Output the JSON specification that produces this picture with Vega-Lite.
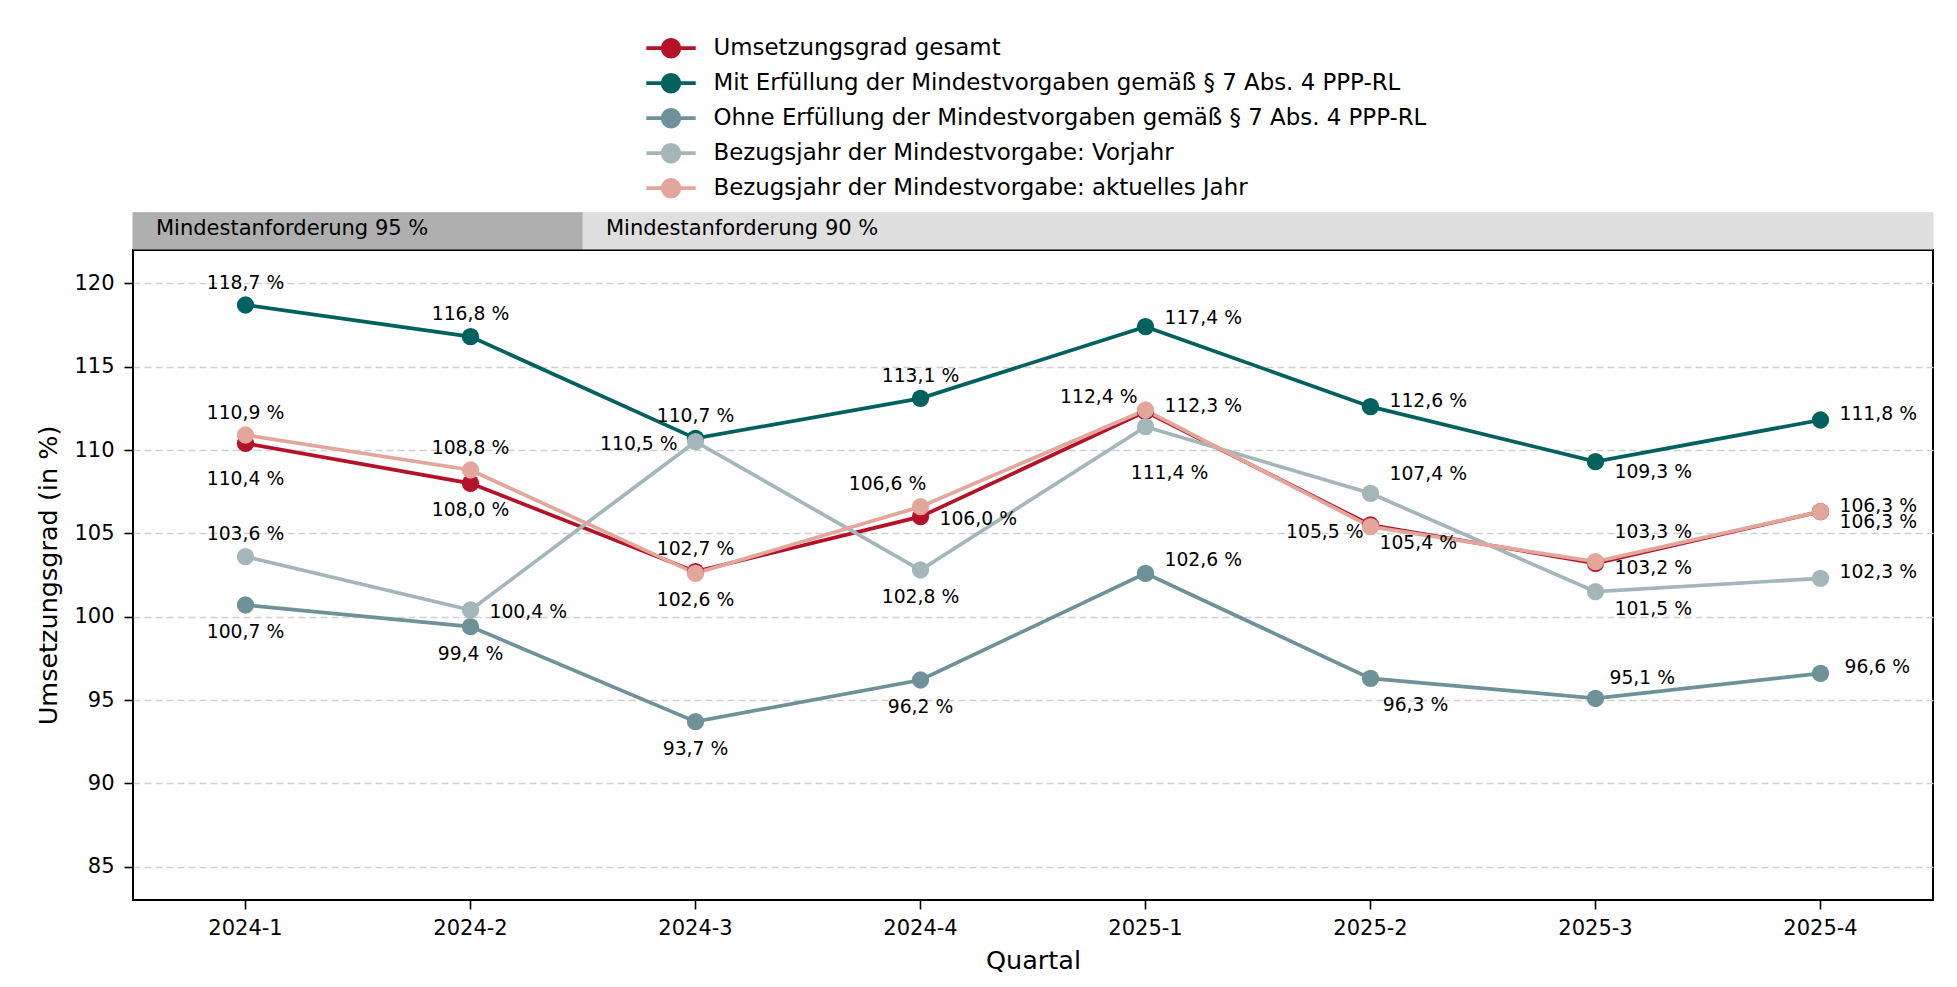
{
  "$schema": "https://vega.github.io/schema/vega-lite/v6.json",
  "width": 1800,
  "height": 650,
  "autosize": {"type": "none"},
  "padding": {"left": 133, "top": 250, "right": 24, "bottom": 87},
  "background": "white",
  "config": {
    "font": "DejaVu Sans",
    "view": {"stroke": "black", "strokeWidth": 2},
    "axis": {
      "labelColor": "black", "titleColor": "black", "tickColor": "black",
      "labelFont": "DejaVu Sans", "titleFont": "DejaVu Sans", "titleFontWeight": "normal",
      "labelFontSize": 21, "titleFontSize": 25.5, "tickSize": 9, "tickWidth": 1.6, "domain": false
    },
    "text": {"font": "DejaVu Sans", "fontSize": 18.75, "color": "black", "baseline": "middle"}
  },
  "layer": [
    {
      "data": {"values": [
        {"quartal": "2024-1", "mindestanforderung": 95},
        {"quartal": "2024-2", "mindestanforderung": 95},
        {"quartal": "2024-3", "mindestanforderung": 90},
        {"quartal": "2024-4", "mindestanforderung": 90},
        {"quartal": "2025-1", "mindestanforderung": 90},
        {"quartal": "2025-2", "mindestanforderung": 90},
        {"quartal": "2025-3", "mindestanforderung": 90},
        {"quartal": "2025-4", "mindestanforderung": 90}
      ]},
      "layer": [
        {
          "mark": {"type": "rect", "strokeWidth": 1},
          "encoding": {
            "x": {"field": "quartal", "type": "ordinal", "title": "Quartal",
                  "scale": {"type": "band", "paddingInner": 0, "paddingOuter": 0},
                  "axis": {"labelAngle": 0, "labelPadding": 8, "titlePadding": 10, "grid": false}},
            "y": {"datum": 122.06, "type": "quantitative", "title": "Umsetzungsgrad (in %)",
                  "scale": {"domain": [83, 122], "nice": false, "zero": false}},
            "y2": {"datum": 124.24},
            "fill": {"condition": {"test": "datum.mindestanforderung === 95", "value": "#afafaf"}, "value": "#dfdfdf"},
            "stroke": {"condition": {"test": "datum.mindestanforderung === 95", "value": "#afafaf"}, "value": "#dfdfdf"}
          }
        },
        {
          "transform": [
            {"window": [{"op": "row_number", "as": "nr"}], "groupby": ["mindestanforderung"], "sort": [{"field": "quartal"}]},
            {"filter": "datum.nr === 1"},
            {"calculate": "'Mindestanforderung ' + datum.mindestanforderung + ' %'", "as": "beschriftung"}
          ],
          "mark": {"type": "text", "align": "left", "baseline": "middle", "dx": 23, "fontSize": 21},
          "encoding": {
            "x": {"field": "quartal", "type": "ordinal", "bandPosition": 0, "title": "Quartal"},
            "y": {"datum": 123.25, "type": "quantitative", "title": "Umsetzungsgrad (in %)"},
            "text": {"field": "beschriftung"}
          }
        }
      ]
    },
    {
      "data": {"values": [
        {"quartal": "2024-1", "reihe": "gesamt", "wert": 110.4},
        {"quartal": "2024-2", "reihe": "gesamt", "wert": 108.0},
        {"quartal": "2024-3", "reihe": "gesamt", "wert": 102.7},
        {"quartal": "2024-4", "reihe": "gesamt", "wert": 106.0},
        {"quartal": "2025-1", "reihe": "gesamt", "wert": 112.3},
        {"quartal": "2025-2", "reihe": "gesamt", "wert": 105.5},
        {"quartal": "2025-3", "reihe": "gesamt", "wert": 103.2},
        {"quartal": "2025-4", "reihe": "gesamt", "wert": 106.3},
        {"quartal": "2024-1", "reihe": "mit", "wert": 118.7},
        {"quartal": "2024-2", "reihe": "mit", "wert": 116.8},
        {"quartal": "2024-3", "reihe": "mit", "wert": 110.7},
        {"quartal": "2024-4", "reihe": "mit", "wert": 113.1},
        {"quartal": "2025-1", "reihe": "mit", "wert": 117.4},
        {"quartal": "2025-2", "reihe": "mit", "wert": 112.6},
        {"quartal": "2025-3", "reihe": "mit", "wert": 109.3},
        {"quartal": "2025-4", "reihe": "mit", "wert": 111.8},
        {"quartal": "2024-1", "reihe": "ohne", "wert": 100.7},
        {"quartal": "2024-2", "reihe": "ohne", "wert": 99.4},
        {"quartal": "2024-3", "reihe": "ohne", "wert": 93.7},
        {"quartal": "2024-4", "reihe": "ohne", "wert": 96.2},
        {"quartal": "2025-1", "reihe": "ohne", "wert": 102.6},
        {"quartal": "2025-2", "reihe": "ohne", "wert": 96.3},
        {"quartal": "2025-3", "reihe": "ohne", "wert": 95.1},
        {"quartal": "2025-4", "reihe": "ohne", "wert": 96.6},
        {"quartal": "2024-1", "reihe": "vorjahr", "wert": 103.6},
        {"quartal": "2024-2", "reihe": "vorjahr", "wert": 100.4},
        {"quartal": "2024-3", "reihe": "vorjahr", "wert": 110.5},
        {"quartal": "2024-4", "reihe": "vorjahr", "wert": 102.8},
        {"quartal": "2025-1", "reihe": "vorjahr", "wert": 111.4},
        {"quartal": "2025-2", "reihe": "vorjahr", "wert": 107.4},
        {"quartal": "2025-3", "reihe": "vorjahr", "wert": 101.5},
        {"quartal": "2025-4", "reihe": "vorjahr", "wert": 102.3},
        {"quartal": "2024-1", "reihe": "aktuell", "wert": 110.9},
        {"quartal": "2024-2", "reihe": "aktuell", "wert": 108.8},
        {"quartal": "2024-3", "reihe": "aktuell", "wert": 102.6},
        {"quartal": "2024-4", "reihe": "aktuell", "wert": 106.6},
        {"quartal": "2025-1", "reihe": "aktuell", "wert": 112.4},
        {"quartal": "2025-2", "reihe": "aktuell", "wert": 105.4},
        {"quartal": "2025-3", "reihe": "aktuell", "wert": 103.3},
        {"quartal": "2025-4", "reihe": "aktuell", "wert": 106.3}
      ]},
      "transform": [
        {"calculate": "replace(format(datum.wert, '.1f'), '.', ',') + ' %'", "as": "beschriftung"},
        {"calculate": "datum.reihe + '|' + datum.quartal", "as": "id"}
      ],
      "encoding": {
        "x": {"field": "quartal", "type": "ordinal", "title": "Quartal"},
        "y": {"field": "wert", "type": "quantitative", "title": "Umsetzungsgrad (in %)",
              "scale": {"domain": [83, 122], "nice": false, "zero": false},
              "axis": {"values": [85, 90, 95, 100, 105, 110, 115, 120], "grid": true, "gridColor": "#d0d0d0",
                       "gridDash": [7, 4], "gridWidth": 1.3, "labelPadding": 10, "titlePadding": 12}}
      },
      "layer": [
        {
          "mark": {"type": "line", "strokeWidth": 3.7},
          "encoding": {
            "color": {"field": "reihe", "type": "nominal",
              "scale": {"domain": ["gesamt", "mit", "ohne", "vorjahr", "aktuell"],
                        "range": ["#b5122a", "#00615f", "#6e9297", "#a4b6b9", "#e3a69b"]},
              "legend": {
                "orient": "none", "legendX": 511, "legendY": -219, "title": null,
                "padding": 0, "rowPadding": 0, "clipHeight": 34.4,
                "symbolType": "M-1,0L1,0M-0.34,0A0.34,0.34,0,1,1,0.34,0A0.34,0.34,0,1,1,-0.34,0Z",
                "symbolSize": 2440, "symbolStrokeWidth": 3.7, "symbolOpacity": 1,
                "labelFontSize": 22.9, "labelFont": "DejaVu Sans", "labelColor": "black",
                "labelOffset": 15.5, "labelLimit": 2000,
                "labelExpr": "datum.label === 'gesamt' ? 'Umsetzungsgrad gesamt' : datum.label === 'mit' ? 'Mit Erfüllung der Mindestvorgaben gemäß § 7 Abs. 4 PPP-RL' : datum.label === 'ohne' ? 'Ohne Erfüllung der Mindestvorgaben gemäß § 7 Abs. 4 PPP-RL' : datum.label === 'vorjahr' ? 'Bezugsjahr der Mindestvorgabe: Vorjahr' : 'Bezugsjahr der Mindestvorgabe: aktuelles Jahr'",
                "encode": {"symbols": {"update": {"fill": {"scale": "color", "field": "value"}, "stroke": {"scale": "color", "field": "value"}}}}
              }
            }
          }
        },
        {
          "mark": {"type": "point", "filled": true, "size": 300, "opacity": 1},
          "encoding": {"color": {"field": "reihe", "type": "nominal"}}
        },
        {"transform": [{"filter": "indexof(['mit|2024-1','mit|2024-2','mit|2024-3','mit|2024-4','aktuell|2024-1','aktuell|2024-2','gesamt|2024-3','vorjahr|2024-1'], datum.id) >= 0"}],
         "mark": {"type": "text", "align": "center", "dy": -22.5}, "encoding": {"text": {"field": "beschriftung"}}},
        {"transform": [{"filter": "indexof(['gesamt|2024-2','aktuell|2024-3','vorjahr|2024-4','ohne|2024-1','ohne|2024-2','ohne|2024-3','ohne|2024-4'], datum.id) >= 0"}],
         "mark": {"type": "text", "align": "center", "dy": 27}, "encoding": {"text": {"field": "beschriftung"}}},
        {"transform": [{"filter": "datum.id === 'gesamt|2024-1'"}],
         "mark": {"type": "text", "align": "center", "dy": 35.5}, "encoding": {"text": {"field": "beschriftung"}}},
        {"transform": [{"filter": "indexof(['gesamt|2024-4','vorjahr|2024-2'], datum.id) >= 0"}],
         "mark": {"type": "text", "align": "left", "dx": 19, "dy": 2}, "encoding": {"text": {"field": "beschriftung"}}},
        {"transform": [{"filter": "indexof(['gesamt|2025-1','mit|2025-2','mit|2025-4','vorjahr|2025-4','aktuell|2025-4'], datum.id) >= 0"}],
         "mark": {"type": "text", "align": "left", "dx": 19, "dy": -6}, "encoding": {"text": {"field": "beschriftung"}}},
        {"transform": [{"filter": "datum.id === 'mit|2025-1'"}],
         "mark": {"type": "text", "align": "left", "dx": 19, "dy": -9}, "encoding": {"text": {"field": "beschriftung"}}},
        {"transform": [{"filter": "datum.id === 'gesamt|2025-2'"}],
         "mark": {"type": "text", "align": "right", "dx": -7, "dy": 7}, "encoding": {"text": {"field": "beschriftung"}}},
        {"transform": [{"filter": "datum.id === 'gesamt|2025-3'"}],
         "mark": {"type": "text", "align": "left", "dx": 19, "dy": 5}, "encoding": {"text": {"field": "beschriftung"}}},
        {"transform": [{"filter": "indexof(['gesamt|2025-4','mit|2025-3'], datum.id) >= 0"}],
         "mark": {"type": "text", "align": "left", "dx": 19, "dy": 10}, "encoding": {"text": {"field": "beschriftung"}}},
        {"transform": [{"filter": "datum.id === 'ohne|2025-1'"}],
         "mark": {"type": "text", "align": "left", "dx": 19, "dy": -13}, "encoding": {"text": {"field": "beschriftung"}}},
        {"transform": [{"filter": "datum.id === 'ohne|2025-2'"}],
         "mark": {"type": "text", "align": "center", "dx": 45, "dy": 27}, "encoding": {"text": {"field": "beschriftung"}}},
        {"transform": [{"filter": "datum.id === 'ohne|2025-3'"}],
         "mark": {"type": "text", "align": "left", "dx": 14, "dy": -20}, "encoding": {"text": {"field": "beschriftung"}}},
        {"transform": [{"filter": "datum.id === 'ohne|2025-4'"}],
         "mark": {"type": "text", "align": "left", "dx": 24, "dy": -6}, "encoding": {"text": {"field": "beschriftung"}}},
        {"transform": [{"filter": "datum.id === 'vorjahr|2024-3'"}],
         "mark": {"type": "text", "align": "right", "dx": -18, "dy": 2}, "encoding": {"text": {"field": "beschriftung"}}},
        {"transform": [{"filter": "datum.id === 'vorjahr|2025-1'"}],
         "mark": {"type": "text", "align": "center", "dx": 24, "dy": 46}, "encoding": {"text": {"field": "beschriftung"}}},
        {"transform": [{"filter": "datum.id === 'vorjahr|2025-2'"}],
         "mark": {"type": "text", "align": "left", "dx": 19, "dy": -19}, "encoding": {"text": {"field": "beschriftung"}}},
        {"transform": [{"filter": "datum.id === 'vorjahr|2025-3'"}],
         "mark": {"type": "text", "align": "left", "dx": 19, "dy": 17}, "encoding": {"text": {"field": "beschriftung"}}},
        {"transform": [{"filter": "datum.id === 'aktuell|2024-4'"}],
         "mark": {"type": "text", "align": "center", "dx": -33, "dy": -23}, "encoding": {"text": {"field": "beschriftung"}}},
        {"transform": [{"filter": "datum.id === 'aktuell|2025-1'"}],
         "mark": {"type": "text", "align": "right", "dx": -8, "dy": -13}, "encoding": {"text": {"field": "beschriftung"}}},
        {"transform": [{"filter": "datum.id === 'aktuell|2025-2'"}],
         "mark": {"type": "text", "align": "left", "dx": 9, "dy": 16}, "encoding": {"text": {"field": "beschriftung"}}},
        {"transform": [{"filter": "datum.id === 'aktuell|2025-3'"}],
         "mark": {"type": "text", "align": "left", "dx": 19, "dy": -30}, "encoding": {"text": {"field": "beschriftung"}}}
      ]
    }
  ]
}
